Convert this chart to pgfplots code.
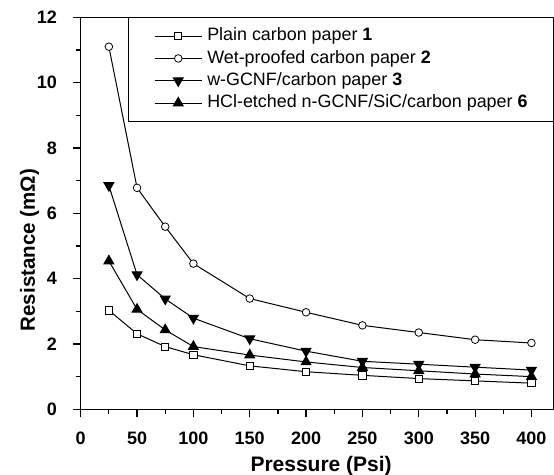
\documentclass[border=0pt]{standalone}
\usepackage{fontspec}
\setmainfont{Liberation Sans}
\usepackage{pgfplots}
\pgfplotsset{compat=1.18}
\begin{document}
\begin{tikzpicture}
\begin{axis}[
  name=ax,
  scale only axis,
  width=473.3pt, height=392pt,
  xmin=0, xmax=420, ymin=0, ymax=12,
  xtick={0,50,...,400}, minor x tick num=1,
  ytick={0,2,...,12}, minor y tick num=1,
  tick align=outside,
  xtick pos=bottom, ytick pos=left,
  major tick length=8pt, minor tick length=5pt,
  axis line style={line width=1.4pt},
  every tick/.style={line width=1.2pt, black},
  /pgf/number format/assume math mode=true,
  tick label style={font=\fontsize{18}{18}\selectfont\bfseries},
  xticklabel style={anchor=base, inner sep=0pt, yshift=-27.4pt},
  yticklabel style={anchor=east, inner sep=0pt, xshift=-15.5pt},
  xlabel={Pressure (Psi)},
  ylabel={Resistance (mΩ)},
  every axis x label/.style={at={(axis description cs:0.508,-0.1574)}, anchor=base, font=\fontsize{21}{21}\selectfont\bfseries},
  every axis y label/.style={at={(axis description cs:-0.0966,0.406)}, anchor=base, rotate=90, font=\fontsize{20.5}{20.5}\selectfont\bfseries},
  legend style={at={(1,1)}, anchor=north east, draw=black, line width=0.8pt,
    font=\fontsize{17.9}{17.9}\selectfont, inner xsep=26pt, inner ysep=10pt, row sep=5.4pt,
    nodes={inner sep=0pt, text height=13.1pt, text depth=3.8pt},
    /tikz/every odd column/.append style={column sep=5pt}},
  legend cell align=left,
  legend image code/.code={\draw[mark repeat=2,mark phase=2] plot coordinates {(0pt,0pt)(23.5pt,0pt)(47pt,0pt)};},
  every axis plot/.append style={line width=1pt, black},
]
\addplot[mark=square*, mark size=3.6pt, mark options={fill=white, line width=0.8pt}] coordinates {
(25,3.03)(50,2.31)(75,1.92)(100,1.67)(150,1.33)(200,1.15)(250,1.04)(300,0.94)(350,0.87)(400,0.80)};
\addlegendentry{Plain carbon paper \textbf{1}}
\addplot[mark=*, mark size=3.8pt, mark options={fill=white, line width=0.8pt}] coordinates {
(25,11.10)(50,6.78)(75,5.59)(100,4.46)(150,3.39)(200,2.97)(250,2.57)(300,2.35)(350,2.13)(400,2.03)};
\addlegendentry{Wet-proofed carbon paper \textbf{2}}
\addplot[mark=triangle*, mark size=5.6pt, mark options={rotate=180, fill=black}] coordinates {
(25,6.85)(50,4.12)(75,3.38)(100,2.79)(150,2.16)(200,1.78)(250,1.47)(300,1.38)(350,1.29)(400,1.20)};
\addlegendentry{w-GCNF/carbon paper \textbf{3}}
\addplot[mark=triangle*, mark size=5.6pt, mark options={fill=black}] coordinates {
(25,4.54)(50,3.06)(75,2.43)(100,1.92)(150,1.66)(200,1.45)(250,1.28)(300,1.18)(350,1.08)(400,1.00)};
\addlegendentry{HCl-etched n-GCNF/SiC/carbon paper \textbf{6}}
\coordinate (O) at (rel axis cs:0,0);
\end{axis}
\pgfresetboundingbox
\path[use as bounding box] (O) ++(-80.7pt,-64.7pt) rectangle ++(554pt,474pt);
\end{tikzpicture}
\end{document}
